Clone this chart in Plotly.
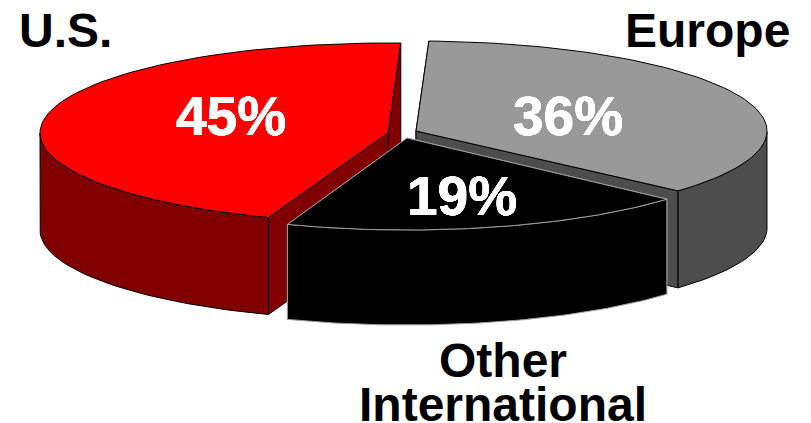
import numpy as np
import plotly.graph_objects as go

W, H = 811, 423
regions = ["Europe", "Other<br>International", "U.S."]
shares = [36, 19, 45]
top_colors = ["#999999", "#000000", "#ff0000"]
wall_colors = ["#4d4d4d", "#000000", "#800000"]
line_colors = ["#000000", "#a0a0a0", "#000000"]
wall_lines = ["#000000", "#a0a0a0", "#000000"]

# pie geometry in pixels: centre of each exploded slice
centers = [(416, 131), (407, 138), (388, 133)]
radii = [(351, 90), (348, 92), (348, 90)]
depths = [97, 95, 97]
START = 2.1
label_pos = [(568, 116), (462, 196), (231, 116)]
name_pos = [(707, 30), (503, 360), (65, 30)]
LINE_GAP = 44

fig = go.Figure()


def poly(xs, ys, fill, line, width=1.0):
    fig.add_trace(go.Scatter(x=xs, y=ys, mode="lines", fill="toself", fillcolor=fill,
                             line=dict(color=line, width=width), hoverinfo="skip",
                             showlegend=False))


edges = START + np.cumsum([0] + shares) * 3.6
slices = []
for i in range(3):
    a = np.radians(np.linspace(edges[i], edges[i + 1], 80))
    cx, cy = centers[i]
    rx, ry = radii[i]
    slices.append((cx + rx * np.sin(a), cy - ry * np.cos(a)))

for i in [0, 2, 1]:
    x, y = slices[i]
    cx, cy = centers[i]
    d = depths[i]
    wc, wl = wall_colors[i], wall_lines[i]
    # cut faces
    for (ex, ey) in [(x[0], y[0]), (x[-1], y[-1])]:
        poly([cx, ex, ex, cx, cx], [cy, ey, ey + d, cy + d, cy], wc, wl)
    # outer wall, only the part facing the viewer
    keep = y >= cy - 1
    wx, wy = x[keep], y[keep]
    poly(np.r_[wx, wx[::-1], wx[0]], np.r_[wy, wy[::-1] + d, wy[0]], wc, wl)
    # top
    poly(np.r_[cx, x, cx], np.r_[cy, y, cy], top_colors[i], line_colors[i])

white_halo = "0.3px 0 0 #fff, -0.3px 0 0 #fff, 0 0.3px 0 #fff, 0 -0.3px 0 #fff"
for i in range(3):
    lx, ly = label_pos[i]
    fig.add_annotation(x=lx, y=ly, text=f"<b>{shares[i]}%</b>", showarrow=False,
                       font=dict(family="Liberation Sans", size=55, color="white", shadow=white_halo))
    nx, ny = name_pos[i]
    for k, part in enumerate(regions[i].split("<br>")):
        fig.add_annotation(x=nx, y=ny + k * LINE_GAP, text=f"<b>{part}</b>", showarrow=False,
                           font=dict(family="Liberation Sans", size=48, color="black"))

fig.update_layout(width=W, height=H, margin=dict(l=0, r=0, t=0, b=0),
                  paper_bgcolor="white", plot_bgcolor="white", showlegend=False,
                  xaxis=dict(range=[0, W], visible=False, fixedrange=True),
                  yaxis=dict(range=[H, 0], visible=False, fixedrange=True))
fig.write_html("out.html", config=dict(displayModeBar=False),
               post_script="document.body.style.margin='0';document.documentElement.style.overflow='hidden';")
